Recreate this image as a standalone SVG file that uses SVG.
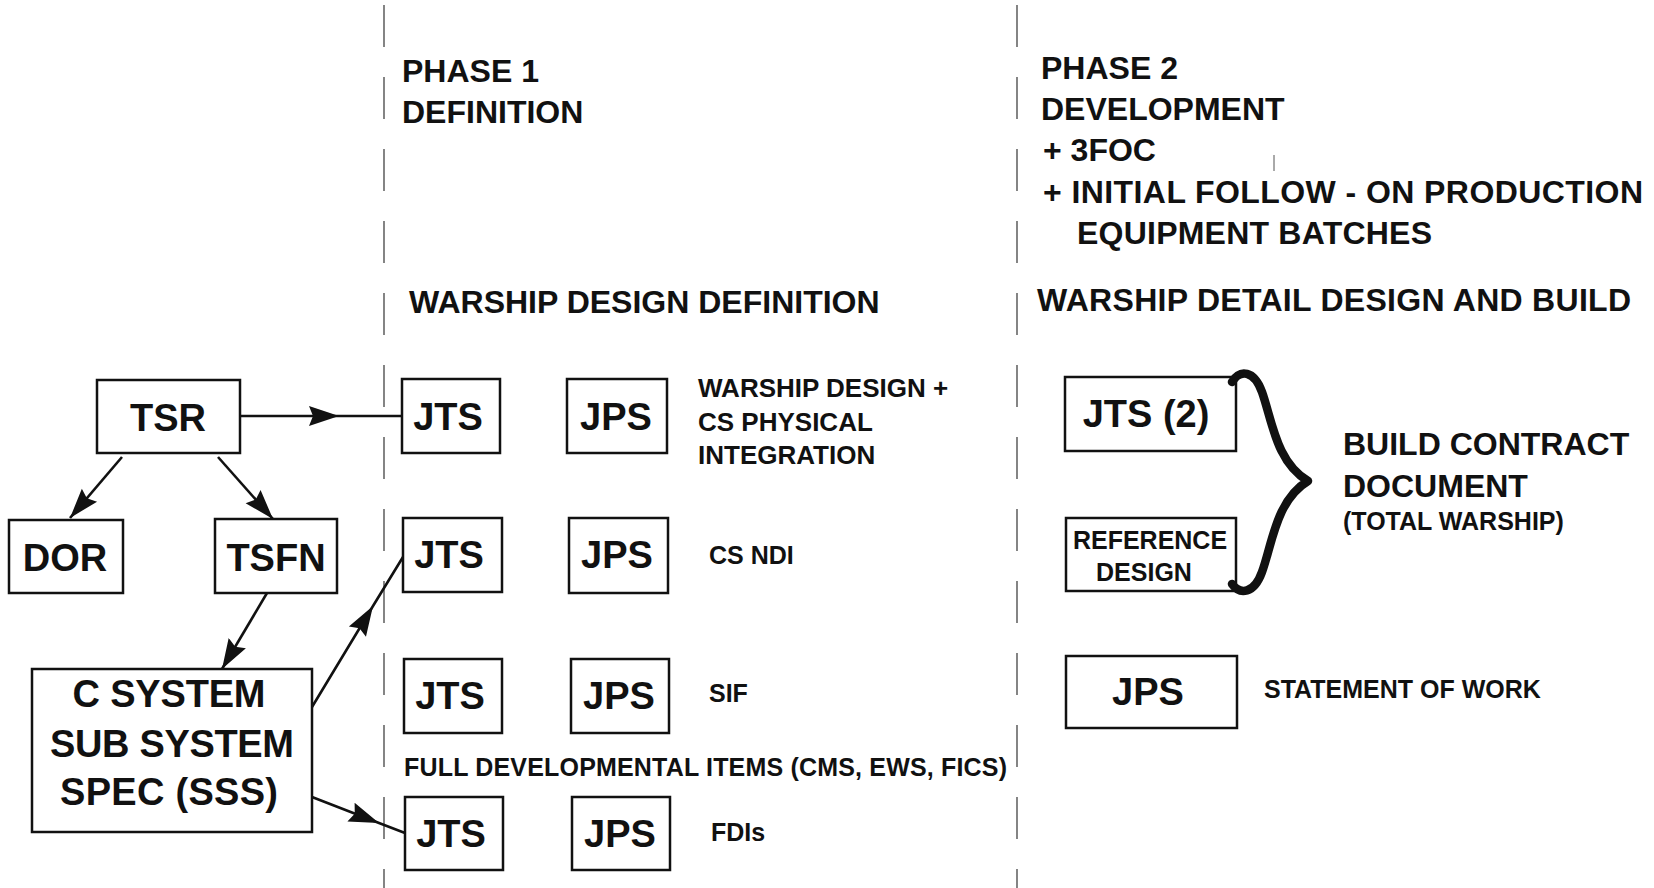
<svg xmlns="http://www.w3.org/2000/svg" width="1654" height="888" viewBox="0 0 1654 888">
<style>
text{font-family:'Liberation Sans',Arial,Helvetica,sans-serif;font-weight:bold;fill:#111}
.h{font-size:32px}
.b{font-size:38px;text-anchor:middle}
.s{font-size:25px}
.m{font-size:26px}
.box{fill:#fff;stroke:#111;stroke-width:2.5}
.conn{fill:none;stroke:#111;stroke-width:2.6}
.div{stroke:#444;stroke-width:1.3;stroke-dasharray:42 30}
</style>
<defs>
<marker id="ah" markerUnits="userSpaceOnUse" markerWidth="30" markerHeight="22" viewBox="0 0 30 22" refX="30" refY="11" orient="auto">
<path d="M0,1 L30,11 L0,21 L4,11 z" fill="#111"/>
</marker>
</defs>
<rect width="1654" height="888" fill="#fff"/>

<g id="dividers">
<line class="div" x1="384" y1="5" x2="384" y2="888"/>
<line class="div" x1="1017" y1="5" x2="1017" y2="888"/>
<line x1="1274" y1="155" x2="1274" y2="171" stroke="#555" stroke-width="1"/>
</g>

<g id="headings">
<text class="h" x="402" y="82">PHASE 1</text>
<text class="h" x="402" y="123">DEFINITION</text>
<text class="h" x="409" y="313">WARSHIP DESIGN DEFINITION</text>
<text class="h" x="1041" y="79">PHASE 2</text>
<text class="h" x="1041" y="120">DEVELOPMENT</text>
<text class="h" x="1043" y="161">+ 3FOC</text>
<text class="h" x="1043" y="203" textLength="600">+ INITIAL FOLLOW - ON PRODUCTION</text>
<text class="h" x="1077" y="244" textLength="355">EQUIPMENT BATCHES</text>
<text class="h" x="1037" y="311" textLength="594">WARSHIP DETAIL DESIGN AND BUILD</text>
</g>

<g id="connectors">
<path class="conn" d="M240,416 L339,416 L402,416" marker-mid="url(#ah)"/>
<path class="conn" d="M122,457 L70,518" marker-end="url(#ah)"/>
<path class="conn" d="M218,457 L273,519" marker-end="url(#ah)"/>
<path class="conn" d="M267,593 L222,669" marker-end="url(#ah)"/>
<path class="conn" d="M312,707 L373,606 L403,557" marker-mid="url(#ah)"/>
<path class="conn" d="M312,797 L379,823 L405,833" marker-mid="url(#ah)"/>
</g>

<g id="tsr"><rect class="box" x="97" y="380" width="143" height="73"/><text class="b" x="168" y="431">TSR</text></g>
<g id="dor"><rect class="box" x="9" y="520" width="114" height="73"/><text class="b" x="65" y="571">DOR</text></g>
<g id="tsfn"><rect class="box" x="215" y="519" width="122" height="74"/><text class="b" x="276" y="571">TSFN</text></g>
<g id="csss"><rect class="box" x="32" y="669" width="280" height="163"/>
<text class="b" x="169" y="707" textLength="193">C SYSTEM</text>
<text class="b" x="172" y="757" textLength="244">SUB SYSTEM</text>
<text class="b" x="169" y="805" textLength="218">SPEC (SSS)</text></g>

<g id="jts1"><rect class="box" x="402" y="379" width="98" height="74"/><text class="b" x="448" y="430">JTS</text></g>
<g id="jps1"><rect class="box" x="567" y="379" width="100" height="74"/><text class="b" x="616" y="430">JPS</text></g>
<g id="lbl1"><text class="m" x="698" y="397">WARSHIP DESIGN +</text><text class="m" x="698" y="431">CS PHYSICAL</text><text class="m" x="698" y="464">INTEGRATION</text></g>

<g id="jts2"><rect class="box" x="403" y="518" width="99" height="74"/><text class="b" x="449" y="568">JTS</text></g>
<g id="jps2"><rect class="box" x="569" y="518" width="99" height="75"/><text class="b" x="617" y="568">JPS</text></g>
<g id="lbl2"><text class="s" x="709" y="564">CS NDI</text></g>

<g id="jts3"><rect class="box" x="404" y="659" width="98" height="74"/><text class="b" x="450" y="709">JTS</text></g>
<g id="jps3"><rect class="box" x="571" y="659" width="98" height="74"/><text class="b" x="619" y="709">JPS</text></g>
<g id="lbl3"><text class="s" x="709" y="702">SIF</text></g>

<g id="lblfull"><text class="s" x="404" y="776" textLength="603">FULL DEVELOPMENTAL ITEMS (CMS, EWS, FICS)</text></g>

<g id="jts4"><rect class="box" x="405" y="797" width="98" height="73"/><text class="b" x="451" y="847">JTS</text></g>
<g id="jps4"><rect class="box" x="572" y="797" width="98" height="73"/><text class="b" x="620" y="847">JPS</text></g>
<g id="lbl4"><text class="s" x="711" y="841">FDIs</text></g>

<g id="jts2p"><rect class="box" x="1065" y="377" width="171" height="74"/><text class="b" x="1146" y="427">JTS (2)</text></g>
<g id="refdesign"><rect class="box" x="1066" y="518" width="170" height="73"/>
<text class="s" x="1150" y="549" text-anchor="middle">REFERENCE</text>
<text class="s" x="1144" y="581" text-anchor="middle">DESIGN</text></g>
<g id="brace"><path d="M1232,382 C1240,369 1254,370 1262,392 C1272,420 1276,462 1308,481 C1276,500 1272,545 1262,572 C1254,594 1240,595 1232,584" fill="none" stroke="#111" stroke-width="8.5" stroke-linecap="round" stroke-linejoin="round"/></g>
<g id="buildcontract">
<text class="h" x="1343" y="455">BUILD CONTRACT</text>
<text class="h" x="1343" y="497">DOCUMENT</text>
<text class="s" x="1343" y="530">(TOTAL WARSHIP)</text></g>

<g id="jpsr"><rect class="box" x="1066" y="656" width="171" height="72"/><text class="b" x="1148" y="705">JPS</text></g>
<g id="sow"><text class="s" x="1264" y="698">STATEMENT OF WORK</text></g>
</svg>
